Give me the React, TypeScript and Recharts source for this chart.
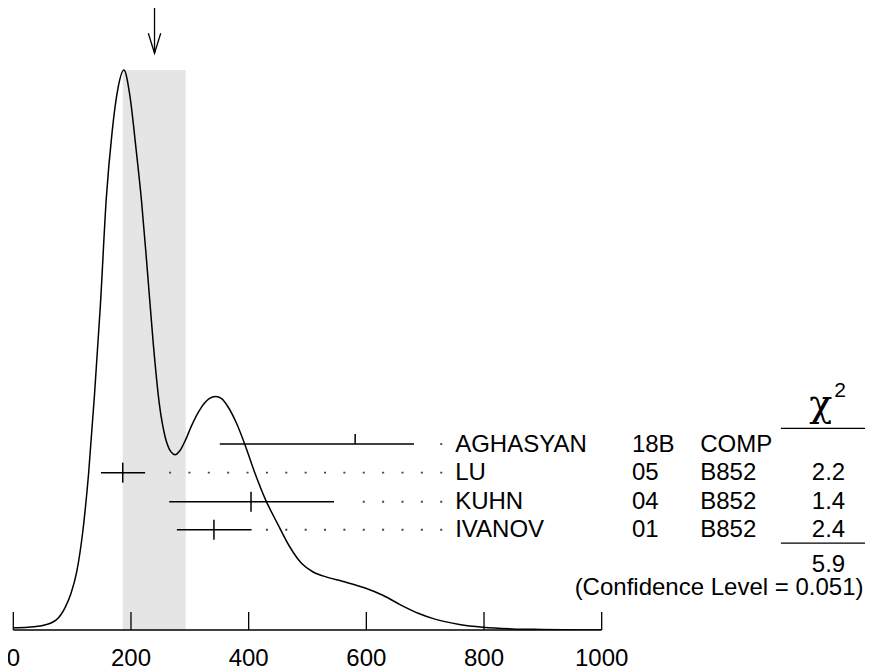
import React from 'react';
import {
  ComposedChart,
  Line,
  XAxis,
  YAxis,
  ReferenceArea,
  ReferenceLine,
  ReferenceDot,
} from 'recharts';

// ---- ideogram curve (x in value units, height relative to the main peak) ----
const curveX = [0, 25, 50, 73, 88, 98, 108, 118, 128, 138, 148, 158, 168, 178, 188, 198, 208, 218, 228, 238, 248, 258, 268, 275, 283, 293, 303, 318, 333, 344, 354, 364, 379, 394, 409, 429, 449, 469, 489, 509, 534, 559, 598, 628, 658, 688, 718, 758, 798, 848, 898, 1000];
const curveH = [0.004, 0.005, 0.008, 0.018, 0.04, 0.065, 0.105, 0.175, 0.28, 0.42, 0.58, 0.77, 0.89, 0.968, 1.0, 0.955, 0.865, 0.765, 0.64, 0.51, 0.405, 0.345, 0.318, 0.313, 0.32, 0.34, 0.365, 0.395, 0.413, 0.417, 0.413, 0.4, 0.37, 0.33, 0.285, 0.232, 0.19, 0.15, 0.12, 0.104, 0.094, 0.087, 0.075, 0.062, 0.045, 0.03, 0.019, 0.01, 0.005, 0.002, 0.001, 0];

// ---- x ticks ----
const xTicks = [0, 200, 400, 600, 800, 1000];

// ---- measurements ----
const names = ['AGHASYAN', 'LU', 'KUHN', 'IVANOV'];
const years = ['18B', '05', '04', '01'];
const techs = ['COMP', 'B852', 'B852', 'B852'];
const chi2 = ['', '2.2', '1.4', '2.4'];
const centers = [581, 186, 404, 341];
const lows = [351, 149, 265, 278];
const highs = [681, 224, 545, 405];
const usedInAverage = [false, true, true, true];
const rowLevels = [0.332, 0.281, 0.229, 0.179];
const leaderFrom = [722, 262, 591, 426];
const leaderTo = 729;
const labelX = 751;

// ---- average ----
const averageBand = [186, 293];
const averageValue = 240;
const arrowTop = 1.12;
const arrowTip = 1.0298;
const totalChi2 = '5.9';
const confidenceLevel = '0.051';

const curveData = curveX.map((v, i) => ({ v, h: curveH[i] }));

const FONT = '"Liberation Sans", Arial, Helvetica, sans-serif';

const XTick = (props: any) => {
  const { x, y, payload } = props;
  return (
    <g>
      <line x1={x} y1={y} x2={x} y2={y - 18} stroke="#000" strokeWidth={1.3} />
      <text x={x} y={y + 35.5} textAnchor="middle" fontSize={24} fontFamily={FONT} fill="#000">
        {payload.value}
      </text>
    </g>
  );
};

const ArrowShape = (props: any) => {
  const { x1, y1, x2, y2 } = props;
  return (
    <g>
      <line x1={x1} y1={y1} x2={x2} y2={y2} stroke="#000" strokeWidth={1.3} />
      <polyline
        points={`${x2 - 6.2},${y2 - 20} ${x2},${y2} ${x2 + 6.2},${y2 - 20}`}
        fill="none"
        stroke="#000"
        strokeWidth={1.3}
      />
    </g>
  );
};

const makeTick = (full: boolean) => (props: any) => {
  const { cx, cy } = props;
  return (
    <line x1={cx} y1={cy - 10} x2={cx} y2={full ? cy + 10 : cy} stroke="#000" strokeWidth={1.5} />
  );
};

const makeRowText = (i: number) => (props: any) => {
  const { cx, cy } = props;
  const by = cy + 7.5;
  const common = { fontSize: 24, fontFamily: FONT, fill: '#000' };
  return (
    <g>
      <text x={cx} y={by} {...common}>{names[i]}</text>
      <text x={cx + 176.7} y={by} {...common}>{years[i]}</text>
      <text x={cx + 245} y={by} {...common}>{techs[i]}</text>
      {chi2[i] ? (
        <text x={cx + 390} y={by} textAnchor="end" {...common}>{chi2[i]}</text>
      ) : null}
    </g>
  );
};

const HeaderShape = (props: any) => {
  const { cx, cy } = props;
  return (
    <g>
      <text x={cx + 354} y={cy - 28.5} fontSize={38} fontFamily='"DejaVu Serif", serif' fill="#000">χ</text>
      <text x={cx + 379} y={cy - 47.3} fontSize={21} fontFamily={FONT} fill="#000">2</text>
      <line x1={cx + 325.7} y1={cy - 15.7} x2={cx + 420} y2={cy - 15.7} stroke="#000" strokeWidth={1.2} />
    </g>
  );
};

const FooterShape = (props: any) => {
  const { cx, cy } = props;
  const common = { fontSize: 24, fontFamily: FONT, fill: '#000' };
  return (
    <g>
      <line x1={cx + 325.7} y1={cy + 13.3} x2={cx + 420} y2={cy + 13.3} stroke="#000" strokeWidth={1.2} />
      <text x={cx + 390} y={cy + 42.2} textAnchor="end" {...common}>{totalChi2}</text>
      <text x={cx + 408.3} y={cy + 65} textAnchor="end" {...common}>
        {`(Confidence Level = ${confidenceLevel})`}
      </text>
    </g>
  );
};

export default function App() {
  return (
    <div style={{ width: 865, height: 663, fontFamily: FONT, background: '#fff' }}>
      <ComposedChart
        width={865}
        height={663}
        data={curveData}
        margin={{ top: 36, right: 271.3, bottom: 0, left: 5.3 }}
      >
        <XAxis
          dataKey="v"
          type="number"
          domain={[0, 1000]}
          allowDataOverflow
          ticks={xTicks}
          interval={0}
          height={41}
          tickSize={0}
          tickMargin={0}
          tickLine={false}
          axisLine={{ stroke: '#000', strokeWidth: 1.3 }}
          tick={<XTick />}
        />
        <YAxis
          type="number"
          domain={[0, 1.0464]}
          allowDataOverflow
          width={0}
          tick={false}
          tickLine={false}
          axisLine={{ stroke: '#000', strokeWidth: 1.3 }}
        />
        <ReferenceArea
          x1={averageBand[0]}
          x2={averageBand[1]}
          y1={0}
          y2={1}
          fill="#e5e5e5"
          fillOpacity={1}
          stroke="none"
          ifOverflow="visible"
        />
        <ReferenceLine
          segment={[{ x: averageValue, y: arrowTop }, { x: averageValue, y: arrowTip }]}
          ifOverflow="visible"
          shape={ArrowShape}
        />
        {names.map((n, i) => (
          <ReferenceLine
            key={'lead' + n}
            segment={[{ x: leaderTo, y: rowLevels[i] }, { x: leaderFrom[i], y: rowLevels[i] }]}
            stroke="#444"
            strokeWidth={1.8}
            strokeDasharray="2 17.37"
            ifOverflow="visible"
          />
        ))}
        {names.map((n, i) => (
          <ReferenceLine
            key={'bar' + n}
            segment={[{ x: lows[i], y: rowLevels[i] }, { x: highs[i], y: rowLevels[i] }]}
            stroke="#000"
            strokeWidth={1.5}
            ifOverflow="visible"
          />
        ))}
        {names.map((n, i) => (
          <ReferenceDot
            key={'ctr' + n}
            x={centers[i]}
            y={rowLevels[i]}
            r={0}
            ifOverflow="visible"
            shape={makeTick(usedInAverage[i])}
          />
        ))}
        {names.map((n, i) => (
          <ReferenceDot
            key={'txt' + n}
            x={labelX}
            y={rowLevels[i]}
            r={0}
            ifOverflow="visible"
            shape={makeRowText(i)}
          />
        ))}
        <ReferenceDot x={labelX} y={rowLevels[0]} r={0} ifOverflow="visible" shape={HeaderShape} />
        <ReferenceDot
          x={labelX}
          y={rowLevels[rowLevels.length - 1]}
          r={0}
          ifOverflow="visible"
          shape={FooterShape}
        />
        <Line
          type="monotone"
          dataKey="h"
          stroke="#000"
          strokeWidth={1.5}
          dot={false}
          activeDot={false}
          isAnimationActive={false}
        />
      </ComposedChart>
    </div>
  );
}
